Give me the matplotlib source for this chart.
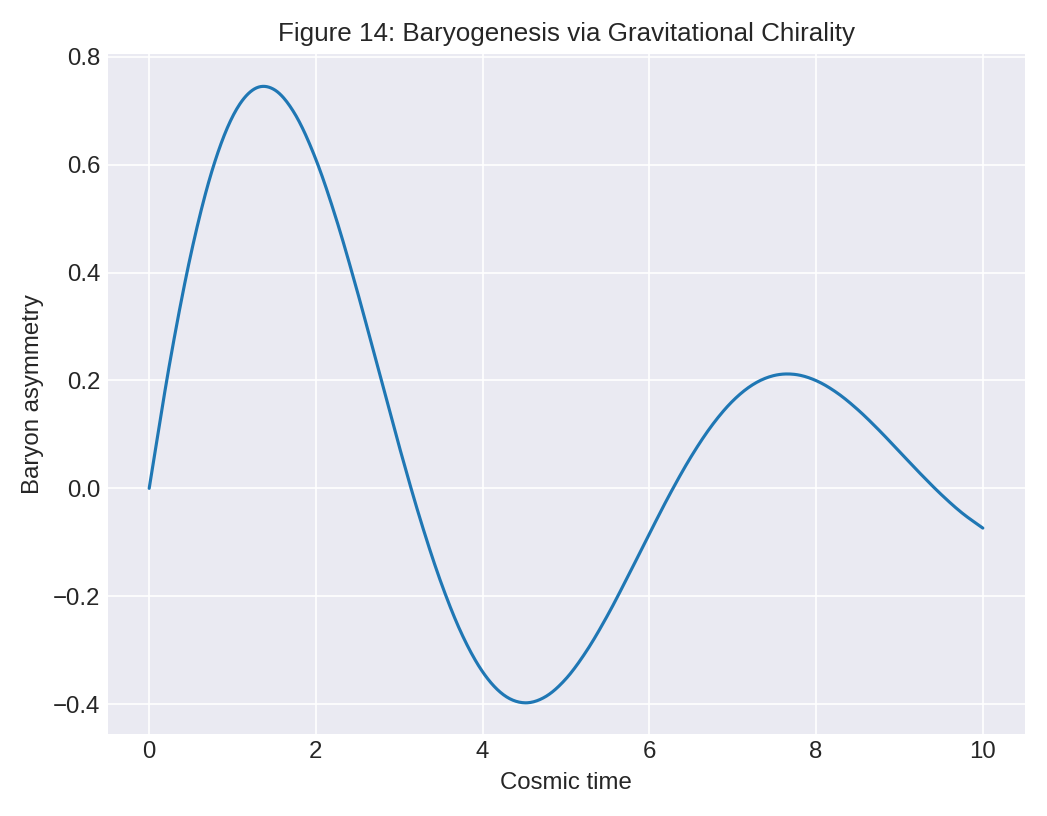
import numpy as np
import matplotlib
matplotlib.use("Agg")
import matplotlib.pyplot as plt

plt.style.use("seaborn-v0_8-darkgrid")
plt.rcParams.update({"xtick.labelsize": 11.5, "ytick.labelsize": 11.5,
                     "axes.labelsize": 11.5, "axes.titlesize": 12.5})

time = np.arange(0, 10.01, 0.25)
asym = [0.0, 0.2353, 0.4338, 0.5867, 0.6889, 0.7391, 0.7390, 0.6934, 0.6095, 0.4961,
        0.3630, 0.2202, 0.0774, -0.0565, -0.1742, -0.2700, -0.3400, -0.3825, -0.3974,
        -0.3864, -0.3528, -0.3005, -0.2349, -0.1609, -0.0842, -0.0095, 0.0586, 0.1166,
        0.1620, 0.1931, 0.2093, 0.2111, 0.1997, 0.1772, 0.1459, 0.1086, 0.0681, 0.0274,
        -0.0112, -0.0455, -0.0736]

# Catmull-Rom smoothing between read points
y = np.array(asym)
p = np.concatenate([[2*y[0]-y[1]], y, [2*y[-1]-y[-2]]])
xs, ys = [], []
s = np.linspace(0, 1, 20, endpoint=False)
for i in range(len(y)-1):
    p0, p1, p2, p3 = p[i], p[i+1], p[i+2], p[i+3]
    ys.append(0.5*((2*p1) + (-p0+p2)*s + (2*p0-5*p1+4*p2-p3)*s**2 + (-p0+3*p1-3*p2+p3)*s**3))
    xs.append(time[i] + s*(time[i+1]-time[i]))
xs = np.concatenate(xs + [[time[-1]]]); ys = np.concatenate(ys + [[y[-1]]])

fig, ax = plt.subplots(figsize=(6.98, 5.44), dpi=150)
ax.plot(xs, ys, color="#1f77b4", lw=1.5)
ax.set_ylim(-0.455, 0.805)
ax.set_title("Figure 14: Baryogenesis via Gravitational Chirality")
ax.set_xlabel("Cosmic time")
ax.set_ylabel("Baryon asymmetry")
fig.tight_layout()
fig.savefig("out.png")
